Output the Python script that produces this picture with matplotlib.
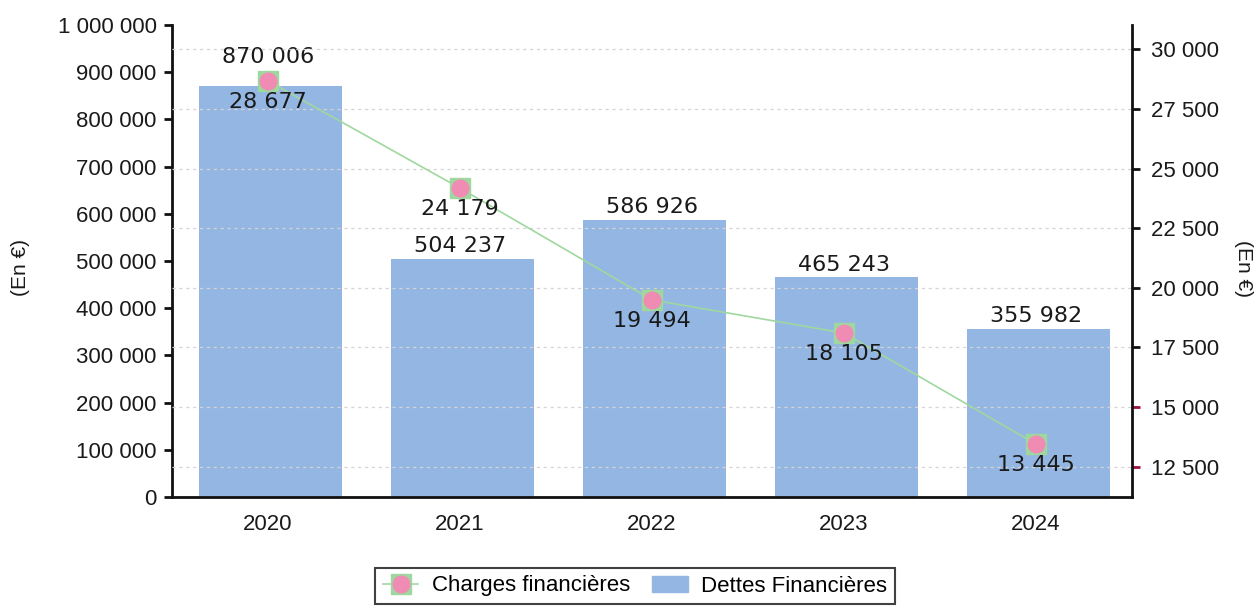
import matplotlib
matplotlib.use("Agg")
import matplotlib.pyplot as plt
from matplotlib.ticker import FuncFormatter

years = ["2020", "2021", "2022", "2023", "2024"]
dettes = [870006, 504237, 586926, 465243, 355982]
charges = [28677, 24179, 19494, 18105, 13445]
right_ticks = [17500, 20000, 22500, 25000, 27500, 30000]
right_red_ticks = [12500, 15000]
left_ticks = [0, 100000, 200000, 300000, 400000, 500000, 600000, 700000, 800000, 900000, 1000000]

def fmt(v, pos=None):
    return "{:,}".format(int(v)).replace(",", " ")

tick_font = "Liberation Sans"

fig = plt.figure(figsize=(12.59, 6.08), dpi=100)
ax = fig.add_axes([172/1259, 1-497/608, (1132-172)/1259, (497-25)/608])
ax2 = ax.twinx()

x = list(range(len(years)))
ax.bar([i + 0.012 for i in x], dettes, width=0.745, color="#94b6e2", zorder=2)
ax.set_xlim(-0.5, 4.5)
ax.set_ylim(0, 1000000)
ax.set_yticks(left_ticks)
ax.yaxis.set_major_formatter(FuncFormatter(fmt))
ax.set_xticks(x)
ax.set_xticklabels(years)

ax2.set_ylim(11230, 31020)
ax2.set_yticks(right_ticks)
ax2.set_yticks(right_red_ticks, minor=True)
ax2.yaxis.set_major_formatter(FuncFormatter(fmt))
ax2.yaxis.set_minor_formatter(FuncFormatter(fmt))
ax2.grid(axis="y", which="both", color="#d4d4d4", linestyle=(0, (2.5, 3)), linewidth=0.9)
ax.set_axisbelow(True)

line, = ax2.plot(x, charges, color="#9fd89f", linewidth=1.2, marker="s",
                 markersize=14, markerfacecolor="#9fd89f", markeredgecolor="#9fd89f", zorder=3)
dots, = ax2.plot(x, charges, linestyle="none", marker="o", markersize=12,
                 markerfacecolor="#f08cb4", markeredgecolor="#f08cb4", zorder=4)

for i, v in enumerate(dettes):
    off = 14 if i == 0 else 2
    ax.annotate(fmt(v), (i, v), xytext=(0, off), textcoords="offset points",
                ha="center", va="bottom", fontsize=16, color="#1a1a1a", zorder=5)
for i, v in enumerate(charges):
    ax2.annotate(fmt(v), (i, v), xytext=(0, -8), textcoords="offset points",
                 ha="center", va="top", fontsize=16, color="#1a1a1a", zorder=5)

for a in (ax, ax2):
    for s in a.spines.values():
        s.set_visible(False)
ax.spines["left"].set_visible(True)
ax.spines["bottom"].set_visible(True)
ax2.spines["right"].set_visible(True)
for s in (ax.spines["left"], ax.spines["bottom"], ax2.spines["right"]):
    s.set_linewidth(2)
    s.set_color("#111111")

ax.tick_params(axis="y", length=6, width=2, labelsize=16, color="#111111", pad=5)
ax.tick_params(axis="x", length=0, labelsize=16, pad=12)
ax2.tick_params(axis="y", which="major", length=6, width=2, labelsize=16, color="#111111", pad=8)
ax2.tick_params(axis="y", which="minor", length=6, width=2, labelsize=16, color="#a0103a", pad=8)
for lab in (ax.get_yticklabels() + ax.get_xticklabels() + ax2.get_yticklabels()
            + ax2.get_yticklabels(minor=True)):
    lab.set_fontfamily(tick_font)
    lab.set_color("#1a1a1a")

fig.text(20/1259, 1-268/608, "(En €)", rotation=90, ha="center", va="center",
         fontsize=15, family=tick_font, color="#1a1a1a")
fig.text(1244/1259, 1-268/608, "(En €)", rotation=-90, ha="center", va="center",
         fontsize=15, family=tick_font, color="#1a1a1a")

bar_handle = plt.Rectangle((0, 0), 1, 1, color="#94b6e2")
leg = fig.legend([(line, dots), bar_handle], ["Charges financières", "Dettes Financières"],
                 loc="center", bbox_to_anchor=(635/1259, 1-586/608), ncol=2,
                 frameon=True, fancybox=False, edgecolor="#111111",
                 prop={"family": tick_font, "size": 16}, handlelength=1.6,
                 columnspacing=1.0, handletextpad=0.6, borderpad=0.35)
leg.get_frame().set_linewidth(1.5)

fig.savefig("out.png", dpi=100)
